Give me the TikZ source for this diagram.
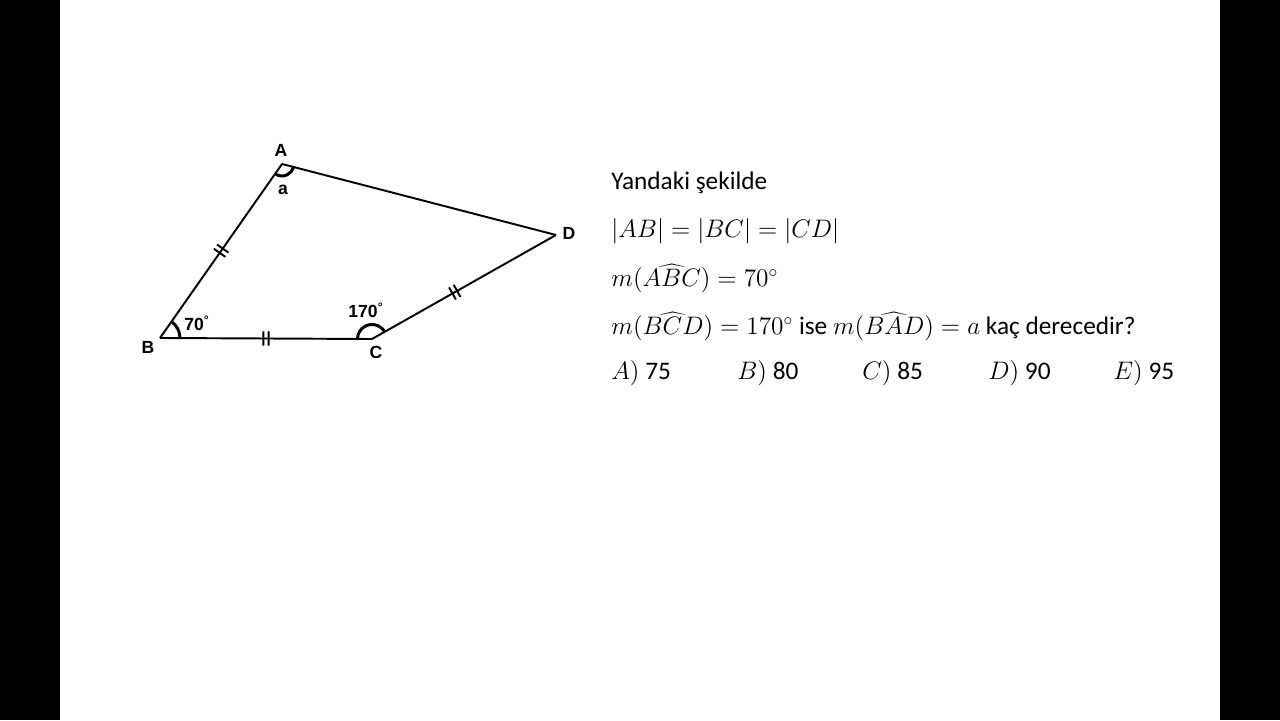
\documentclass[tikz,border=0pt]{standalone}
\usepackage{fontspec}
\setmainfont{Carlito}
\newfontfamily\labelfont{Liberation Sans}
\usetikzlibrary{angles,decorations.markings}

\begin{document}
\begin{tikzpicture}[x=0.02cm,y=0.02cm,
    side/.style={line width=1.1pt},
    pt/.style={font=\labelfont\bfseries\fontsize{10}{12}\selectfont},
    dbltick/.style={postaction={decorate},decoration={markings,
      mark=at position #1 with {\draw[line width=1.1pt] (-1.5pt,-4pt) -- (-1.5pt,4pt) (1.5pt,-4pt) -- (1.5pt,4pt);}}},
    dbltick/.default=0.5,
    ang/.style={draw,line width=1.7pt},
    txt/.style={anchor=base west,inner sep=0pt,font=\fontsize{14.4}{17}\selectfont}]
    \useasboundingbox (0,0) rectangle (1280,720);
    \fill (0,0) rectangle (60,720);
    \fill (1220,0) rectangle (1280,720);
    % corners of the quadrilateral
    \coordinate (A) at (282,556);
    \coordinate (B) at (160,382);
    \coordinate (C) at (372,381);
    \coordinate (D) at (556,485);
    \draw [side] (A) -- (D);
    \draw [side,dbltick] (A) -- (B);
    \draw [side,dbltick] (B) -- (C);
    \draw [side,dbltick=0.45] (C) -- (D);
    \pic [ang,angle radius=0.4cm] {angle=C--B--A};
    \pic [ang,angle radius=0.29cm] {angle=D--C--B};
    \pic [ang,angle radius=0.24cm] {angle=B--A--D};
    \node [pt] (lA) at (281,570) {A};
    \node [pt] (lB) at (148,373) {B};
    \node [pt] (lC) at (376,368) {C};
    \node [pt] (lD) at (569,487) {D};
    \node [pt] (aB) at (197,397) {70\textsuperscript{°}};
    \node [pt] (aC) at (366,410) {170\textsuperscript{°}};
    \node [pt] (aA) at (283,530) {a};
    % the question
    \node [txt] (q1) at (611,530) {Yandaki şekilde};
    \node [txt] (q2) at (611,482) {$|AB|=|BC|=|CD|$};
    \node [txt] (q3) at (611,433) {$m(\widehat{ABC})=70^{\circ}$};
    \node [txt] (q4) at (611,385) {$m(\widehat{BCD})=170^{\circ}$ ise $m(\widehat{BAD})=a$ kaç derecedir?};
    \node [txt] (oA) at (611,340) {$A)$ 75};
    \node [txt] (oB) at (737,340) {$B)$ 80};
    \node [txt] (oC) at (862,340) {$C)$ 85};
    \node [txt] (oD) at (988,340) {$D)$ 90};
    \node [txt] (oE) at (1113,340) {$E)$ 95};
\end{tikzpicture}
\end{document}
